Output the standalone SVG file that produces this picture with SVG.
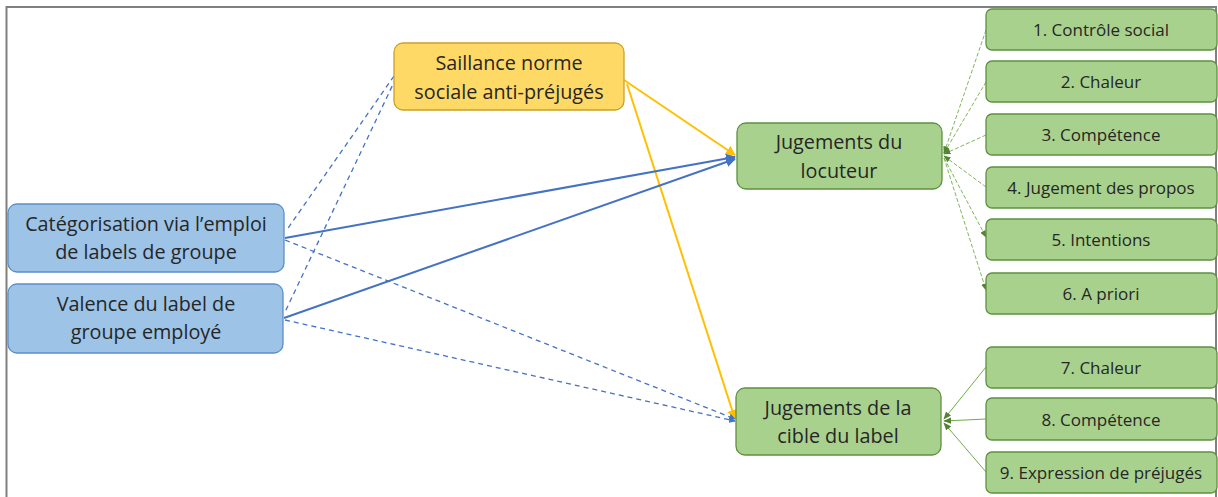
<svg xmlns="http://www.w3.org/2000/svg" width="1218" height="497" viewBox="0 0 1218 497">
<defs>
<style>
.t{font-family:"Open Sans",Lato,"Liberation Sans",sans-serif;fill:#262626;text-anchor:middle}
.big{font-size:19.8px}
.sm{font-size:17px}
.blue{fill:#9DC3E6;stroke:#5B8FC9;stroke-width:1.3}
.yel{fill:#FFD966;stroke:#C9A227;stroke-width:1.3}
.grn{fill:#A9D18E;stroke:#5E9140;stroke-width:1.3}
.bs{stroke:#4472C4;stroke-width:2;fill:none}
.bd{stroke:#4472C4;stroke-width:1.3;fill:none;stroke-dasharray:5 4}
.ys{stroke:#FFC000;stroke-width:2;fill:none}
.gd{stroke:#70AD47;stroke-width:0.9;fill:none;stroke-dasharray:4 2}
.gs{stroke:#70AD47;stroke-width:1;fill:none}
</style>
<marker id="ab" viewBox="0 0 10 10" refX="9" refY="5" markerWidth="5" markerHeight="5" orient="auto"><path d="M0,0 L10,5 L0,10 z" fill="#4472C4"/></marker>
<marker id="ay" viewBox="0 0 10 10" refX="9" refY="5" markerWidth="5" markerHeight="5" orient="auto"><path d="M0,0 L10,5 L0,10 z" fill="#FFC000"/></marker>
<marker id="ag" viewBox="0 0 10 10" refX="9" refY="5" markerWidth="8" markerHeight="8" orient="auto"><path d="M0,1 L10,5 L0,9 z" fill="#548235"/></marker>
</defs>
<rect width="1218" height="497" fill="#fff"/>
<path d="M6.5,500 V7 H1216 V500" fill="none" stroke="#808080" stroke-width="2"/>
<g id="connectors">
<line class="ys" x1="624" y1="80" x2="735" y2="155" marker-end="url(#ay)"/>
<line class="ys" x1="627" y1="84" x2="735" y2="419" marker-end="url(#ay)"/>
<line class="bs" x1="285" y1="238" x2="735" y2="157" marker-end="url(#ab)"/>
<line class="bs" x1="284" y1="318" x2="735" y2="159" marker-end="url(#ab)"/>
<line class="bd" x1="394" y1="76" x2="286" y2="231"/>
<line class="bd" x1="396" y1="78" x2="285" y2="312"/>
<line class="bd" x1="285" y1="240" x2="735" y2="419" marker-end="url(#ab)"/>
<line class="bd" x1="285" y1="320" x2="735" y2="421" marker-end="url(#ab)"/>
<line class="gd" x1="986" y1="30" x2="944" y2="153" marker-end="url(#ag)"/>
<line class="gd" x1="986" y1="82" x2="944" y2="153" marker-end="url(#ag)"/>
<line class="gd" x1="986" y1="135" x2="944" y2="154" marker-end="url(#ag)"/>
<line class="gd" x1="986" y1="187" x2="944" y2="156" marker-end="url(#ag)"/>
<line class="gd" x1="944" y1="158" x2="986" y2="237" marker-end="url(#ag)"/>
<line class="gd" x1="944" y1="158" x2="986" y2="290" marker-end="url(#ag)"/>
<line class="gs" x1="986" y1="367" x2="944" y2="419" marker-end="url(#ag)"/>
<line class="gs" x1="986" y1="419" x2="944" y2="421" marker-end="url(#ag)"/>
<line class="gs" x1="986" y1="472" x2="944" y2="423" marker-end="url(#ag)"/>
</g>
<g id="n-saillance"><rect class="yel" x="394" y="43" width="230" height="67" rx="9"/><text class="t big" x="509" y="70">Saillance norme</text><text class="t big" x="509" y="99">sociale anti-préjugés</text></g>
<g id="n-categorisation"><rect class="blue" x="8" y="204" width="276" height="68" rx="9"/><text class="t big" x="146" y="231">Catégorisation via l’emploi</text><text class="t big" x="146" y="259">de labels de groupe</text></g>
<g id="n-valence"><rect class="blue" x="8" y="284" width="275" height="69" rx="9"/><text class="t big" x="146" y="311">Valence du label de</text><text class="t big" x="146" y="339">groupe employé</text></g>
<g id="n-locuteur"><rect class="grn" x="737" y="123" width="205" height="66" rx="9"/><text class="t big" x="839" y="149">Jugements du</text><text class="t big" x="839" y="178">locuteur</text></g>
<g id="n-cible"><rect class="grn" x="736" y="388" width="205" height="67" rx="9"/><text class="t big" x="838" y="415">Jugements de la</text><text class="t big" x="838" y="443">cible du label</text></g>
<g id="n1"><rect class="grn" x="986" y="9" width="231" height="41" rx="6"/><text class="t sm" x="1101" y="35.5">1. Contrôle social</text></g>
<g id="n2"><rect class="grn" x="986" y="61" width="231" height="41" rx="6"/><text class="t sm" x="1101" y="87.5">2. Chaleur</text></g>
<g id="n3"><rect class="grn" x="986" y="114" width="231" height="41" rx="6"/><text class="t sm" x="1101" y="140.5">3. Compétence</text></g>
<g id="n4"><rect class="grn" x="986" y="167" width="231" height="41" rx="6"/><text class="t sm" x="1101" y="193.5">4. Jugement des propos</text></g>
<g id="n5"><rect class="grn" x="986" y="219" width="231" height="41" rx="6"/><text class="t sm" x="1101" y="245.5">5. Intentions</text></g>
<g id="n6"><rect class="grn" x="986" y="273" width="231" height="41" rx="6"/><text class="t sm" x="1101" y="299.5">6. A priori</text></g>
<g id="n7"><rect class="grn" x="986" y="347" width="231" height="41" rx="6"/><text class="t sm" x="1101" y="373.5">7. Chaleur</text></g>
<g id="n8"><rect class="grn" x="986" y="398" width="231" height="42" rx="6"/><text class="t sm" x="1101" y="425.5">8. Compétence</text></g>
<g id="n9"><rect class="grn" x="986" y="452" width="231" height="41" rx="6"/><text class="t sm" x="1101" y="478.5">9. Expression de préjugés</text></g>
</svg>
